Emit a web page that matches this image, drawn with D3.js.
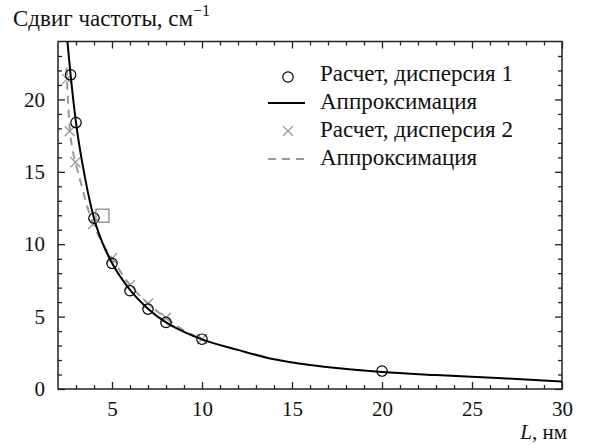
<!DOCTYPE html>
<html>
<head>
<meta charset="utf-8">
<script src="https://cdn.jsdelivr.net/npm/d3@7"></script>
<style>
  body { margin: 0; background: #fff; }
  svg text, svg tspan { font-family: "Liberation Serif", "Times New Roman", Tinos, serif; }
</style>
</head>
<body>
<div id="chart"></div>
<script>

// data
var calc1L     = [2.7, 3, 4, 5, 6, 7, 8, 10, 20];
var calc1Shift = [21.7, 18.4, 11.8, 8.68, 6.79, 5.52, 4.6, 3.44, 1.24];

var calc2L     = [2.5, 2.65, 2.97, 3.95, 5, 6, 7, 8, 10];
var calc2Shift = [21.4, 17.8, 15.66, 11.4, 9.03, 7.18, 5.9, 4.92, 3.45];

var fit1L     = [2.5, 2.7, 3, 3.5, 4, 4.5, 5, 6, 7, 8, 9, 10, 12, 14, 16, 18, 20, 23, 26.7, 30];
var fit1Shift = [24.3, 21.7, 18.4, 14.6, 11.8, 10.0, 8.7, 6.85, 5.55, 4.6, 3.95, 3.43, 2.7, 2.05, 1.65, 1.38, 1.17, 0.96, 0.74, 0.52];

var fit2L     = [2.47, 2.55, 2.65, 2.8, 3, 3.3, 3.6, 4, 4.5, 5, 6, 7, 8, 9, 10];
var fit2Shift = [22.2, 20.0, 18.0, 16.6, 15.5, 14.1, 12.7, 11.3, 10.0, 9.0, 7.2, 5.9, 4.9, 4.05, 3.45];

var markL = [4.47];
var markShift = [11.97];

var xTickValues = [5, 10, 15, 20, 25, 30];
var yTickValues = [0, 5, 10, 15, 20];
var legendLabels = ["Расчет, дисперсия 1", "Аппроксимация", "Расчет, дисперсия 2", "Аппроксимация"];

// set the dimensions and margins of the graph
var margin = {top: 41.5, right: 27, bottom: 56, left: 58},
    width = 589 - margin.left - margin.right,
    height = 445 - margin.top - margin.bottom;

var svg = d3.select("#chart")
  .append("svg")
    .attr("width", 589)
    .attr("height", 445)
    .style("display", "block");

var g = svg.append("g")
    .attr("transform", "translate(" + margin.left + "," + margin.top + ")");

var x = d3.scaleLinear().domain([2, 30]).range([0, width]);
var y = d3.scaleLinear().domain([0, 24]).range([height, 0]);

var minorX = d3.range(3, 30, 1).filter(function(v) { return v % 5 != 0; });
var minorY = d3.range(1, 24, 1).filter(function(v) { return v % 5 != 0; });

// ticks on all four sides, pointing inward
function tickStyle(sel) {
  sel.select(".domain").remove();
  sel.attr("font-family", null).attr("font-size", null);
  sel.selectAll("line").attr("stroke", "#222").attr("stroke-width", 1.3);
  sel.selectAll("text")
    .attr("font-size", 21)
    .attr("fill", "#111");
}

g.append("g").attr("transform", "translate(0," + height + ")")
  .call(d3.axisBottom(x).tickValues(xTickValues).tickSize(-7).tickPadding(12).tickFormat(d3.format("d")))
  .call(tickStyle);
g.append("g").attr("transform", "translate(0," + height + ")")
  .call(d3.axisBottom(x).tickValues(minorX).tickSize(-4).tickFormat(""))
  .call(tickStyle);
g.append("g")
  .call(d3.axisTop(x).tickValues(xTickValues).tickSize(-7).tickFormat(""))
  .call(tickStyle);
g.append("g")
  .call(d3.axisTop(x).tickValues(minorX).tickSize(-4).tickFormat(""))
  .call(tickStyle);

g.append("g")
  .call(d3.axisLeft(y).tickValues(yTickValues).tickSize(-7).tickPadding(13).tickFormat(d3.format("d")))
  .call(tickStyle);
g.append("g")
  .call(d3.axisLeft(y).tickValues(minorY).tickSize(-4).tickFormat(""))
  .call(tickStyle);
g.append("g").attr("transform", "translate(" + width + ",0)")
  .call(d3.axisRight(y).tickValues(yTickValues).tickSize(-7).tickFormat(""))
  .call(tickStyle);
g.append("g").attr("transform", "translate(" + width + ",0)")
  .call(d3.axisRight(y).tickValues(minorY).tickSize(-4).tickFormat(""))
  .call(tickStyle);

// frame
g.append("rect")
  .attr("width", width).attr("height", height)
  .attr("fill", "none").attr("stroke", "#222").attr("stroke-width", 1.5);

g.append("clipPath").attr("id", "plot-clip")
  .append("rect").attr("width", width).attr("height", height);

var plot = g.append("g").attr("clip-path", "url(#plot-clip)");

var line = d3.line()
  .x(function(d) { return x(d[0]); })
  .y(function(d) { return y(d[1]); })
  .curve(d3.curveMonotoneX);

// dashed fit (dispersion 2)
plot.append("path")
  .datum(d3.zip(fit2L, fit2Shift))
  .attr("fill", "none")
  .attr("stroke", "#999")
  .attr("stroke-width", 2)
  .attr("stroke-dasharray", "8,6")
  .attr("d", line);

// crosses (dispersion 2)
plot.selectAll(".cross")
  .data(d3.zip(calc2L, calc2Shift))
  .enter()
  .append("path")
    .attr("class", "cross")
    .attr("transform", function(d) { return "translate(" + x(d[0]) + "," + y(d[1]) + ")"; })
    .attr("d", "M-5,-5L5,5M-5,5L5,-5")
    .attr("stroke", "#999")
    .attr("stroke-width", 1.3)
    .attr("fill", "none");

// solid fit (dispersion 1)
plot.append("path")
  .datum(d3.zip(fit1L, fit1Shift))
  .attr("fill", "none")
  .attr("stroke", "#000")
  .attr("stroke-width", 2)
  .attr("d", line);

// circles (dispersion 1)
plot.selectAll(".dot")
  .data(d3.zip(calc1L, calc1Shift))
  .enter()
  .append("circle")
    .attr("class", "dot")
    .attr("cx", function(d) { return x(d[0]); })
    .attr("cy", function(d) { return y(d[1]); })
    .attr("r", 5.2)
    .attr("fill", "none")
    .attr("stroke", "#000")
    .attr("stroke-width", 1.2);

// open square marker
plot.selectAll(".sq")
  .data(d3.zip(markL, markShift))
  .enter()
  .append("rect")
    .attr("class", "sq")
    .attr("x", function(d) { return x(d[0]) - 6.5; })
    .attr("y", function(d) { return y(d[1]) - 6.5; })
    .attr("width", 13)
    .attr("height", 13)
    .attr("fill", "none")
    .attr("stroke", "#888")
    .attr("stroke-width", 1.3);

// legend
var legend = svg.append("g").attr("transform", "translate(288,0)");
var rowY = [81, 109, 137, 165];

legend.append("circle").attr("cx", 0).attr("cy", rowY[0] - 4).attr("r", 5.2)
  .attr("fill", "none").attr("stroke", "#000").attr("stroke-width", 1.2);
legend.append("line").attr("x1", -20).attr("x2", 17).attr("y1", rowY[1] - 6).attr("y2", rowY[1] - 6)
  .attr("stroke", "#000").attr("stroke-width", 2);
legend.append("path").attr("transform", "translate(0," + (rowY[2] - 6) + ")")
  .attr("d", "M-5,-5L5,5M-5,5L5,-5").attr("stroke", "#999").attr("stroke-width", 1.3);
legend.append("line").attr("x1", -20).attr("x2", 17).attr("y1", rowY[3] - 6).attr("y2", rowY[3] - 6)
  .attr("stroke", "#999").attr("stroke-width", 2).attr("stroke-dasharray", "8,6");

legend.selectAll(".lab")
  .data(legendLabels)
  .enter()
  .append("text")
    .attr("class", "lab")
    .attr("x", 32)
    .attr("y", function(d, i) { return rowY[i]; })
    .attr("fill", "#111")
    .attr("font-size", 23)
    .text(function(d) { return d; });

// axis titles
var yTitle = svg.append("text").attr("x", 13).attr("y", 26).attr("fill", "#111")
  .attr("font-size", 23);
yTitle.append("tspan").text("Сдвиг частоты, см");
yTitle.append("tspan").attr("dy", -10).attr("font-size", 16).text("−1");

var xTitle = svg.append("text").attr("x", 567).attr("y", 439).attr("fill", "#111")
  .attr("text-anchor", "end")
  .attr("font-size", 21);
xTitle.append("tspan").attr("font-style", "italic").text("L");
xTitle.append("tspan").text(", нм");

</script>
</body>
</html>
